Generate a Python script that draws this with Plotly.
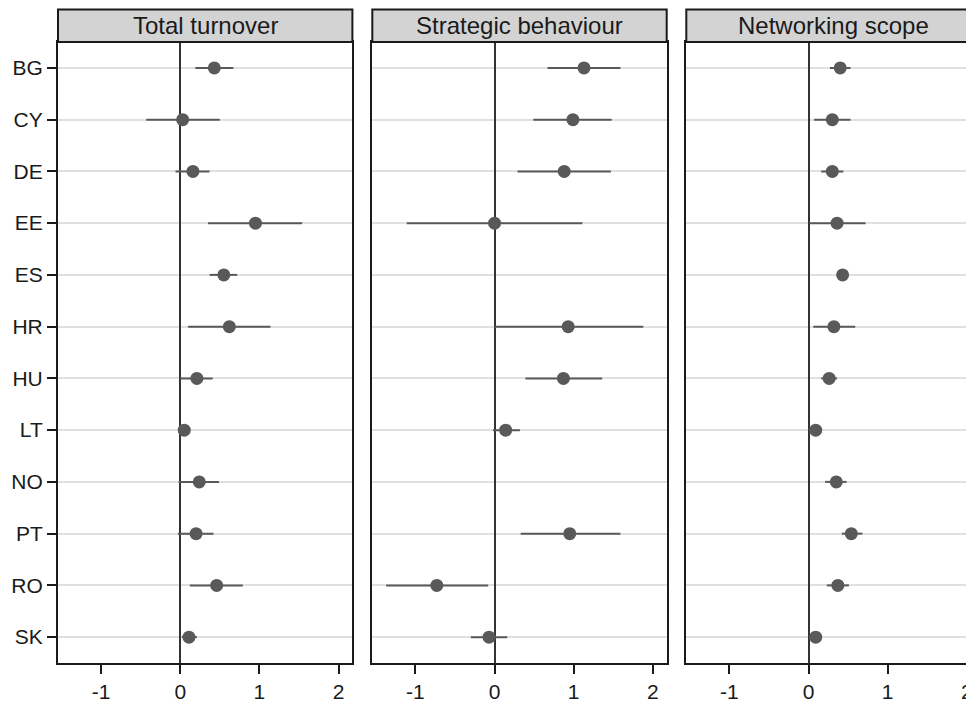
import plotly.graph_objects as go

countries = ["BG", "CY", "DE", "EE", "ES", "HR", "HU", "LT", "NO", "PT", "RO", "SK"]
panel_titles = ["Total turnover", "Strategic behaviour", "Networking scope"]

# Estimates with lower / upper confidence bounds per panel (None = not estimated)
turnover_est = [0.43, 0.03, 0.16, 0.95, 0.55, 0.62, 0.21, 0.05, 0.24, 0.20, 0.46, 0.11]
turnover_lo = [0.19, -0.43, -0.06, 0.35, 0.37, 0.10, 0.00, 0.00, -0.02, -0.03, 0.12, 0.02]
turnover_hi = [0.67, 0.50, 0.37, 1.54, 0.72, 1.14, 0.41, 0.10, 0.49, 0.42, 0.79, 0.21]

strategic_est = [1.13, 0.99, 0.88, 0.00, None, 0.93, 0.87, 0.14, None, 0.95, -0.73, -0.07]
strategic_lo = [0.67, 0.49, 0.29, -1.11, None, 0.00, 0.39, -0.02, None, 0.33, -1.37, -0.30]
strategic_hi = [1.59, 1.48, 1.47, 1.11, None, 1.88, 1.36, 0.32, None, 1.59, -0.08, 0.16]

network_est = [0.40, 0.30, 0.30, 0.36, 0.43, 0.32, 0.26, 0.09, 0.35, 0.54, 0.37, 0.09]
network_lo = [0.27, 0.07, 0.16, 0.01, 0.38, 0.06, 0.16, 0.04, 0.21, 0.42, 0.23, 0.04]
network_hi = [0.53, 0.53, 0.44, 0.72, 0.48, 0.59, 0.36, 0.14, 0.48, 0.68, 0.51, 0.14]

x_ticks = [-1, 0, 1, 2]

panels = [
    (turnover_est, turnover_lo, turnover_hi),
    (strategic_est, strategic_lo, strategic_hi),
    (network_est, network_lo, network_hi),
]

# the page body has an 8px margin, so the figure starts at (8, 8) of the window
OFF = 8
VW, VH = 974, 704
W, H = VW - OFF, VH - OFF
FONT = "Liberation Sans, Arial, sans-serif"
DARK = "#1a1a1a"
PT_COL = "#595959"

# pixel layout in window coordinates
px_left = [58, 372.3, 686.3]
px_width = 294.4
plot_top, plot_bot = 42, 663
strip_top = 9.5
unit_px = px_width / 3.72
xmin = -1.545


def fx(p):
    return (p - OFF) / W


def fy(p):
    return 1 - (p - OFF) / H


fig = go.Figure()

for i, (est, lo, hi) in enumerate(panels):
    xs, ys, ep, em = [], [], [], []
    for c, e, l, h in zip(countries, est, lo, hi):
        if e is None:
            continue
        xs.append(e)
        ys.append(c)
        ep.append(h - e)
        em.append(e - l)
    sfx = "" if i == 0 else str(i + 1)
    fig.add_trace(go.Scatter(
        x=xs, y=ys, mode="markers",
        marker=dict(size=13, color=PT_COL),
        error_x=dict(type="data", array=ep, arrayminus=em, symmetric=False,
                     width=0, thickness=2, color=PT_COL),
        xaxis="x" + sfx, yaxis="y" + sfx, showlegend=False, cliponaxis=False,
    ))

    right_px = min(px_left[i] + px_width, VW)
    x0 = fx(px_left[i])
    x1 = min(fx(right_px), 1.0)
    xmax = xmin + (right_px - px_left[i]) / unit_px
    xa = dict(
        domain=[x0, x1], range=[xmin, xmax], anchor="y" + sfx,
        tickvals=x_ticks, ticktext=[str(t) for t in x_ticks],
        ticks="outside", ticklen=9, tickwidth=1.5, tickcolor=DARK,
        tickfont=dict(family=FONT, size=21, color=DARK),
        showgrid=False, zeroline=True, zerolinecolor="#333333", zerolinewidth=2,
        showline=True, linecolor=DARK, linewidth=2, mirror=True,
        automargin=False, fixedrange=True,
    )
    ya = dict(
        domain=[fy(plot_bot), fy(plot_top)], anchor="x" + sfx,
        type="category", categoryarray=countries, categoryorder="array",
        range=[11.5, -0.5],
        showgrid=True, gridcolor="#e0e0e0", gridwidth=2,
        showline=True, linecolor=DARK, linewidth=2, mirror=(i < 2),
        zeroline=False, automargin=False, fixedrange=True,
    )
    if i == 0:
        ya.update(ticks="outside", ticklen=9, tickwidth=1.5, tickcolor=DARK,
                  tickfont=dict(family=FONT, size=21, color=DARK),
                  showticklabels=True)
    else:
        ya.update(ticks="", showticklabels=False)
    fig.update_layout(**{"xaxis" + sfx: xa, "yaxis" + sfx: ya})

    # strip
    sx1 = fx(px_left[i] + px_width)
    fig.add_shape(type="rect", xref="paper", yref="paper",
                  x0=x0, x1=sx1, y0=fy(plot_top), y1=fy(strip_top),
                  fillcolor="#d3d3d3", line=dict(color=DARK, width=2), layer="above")
    fig.add_annotation(xref="paper", yref="paper",
                       x=(x0 + sx1) / 2, y=fy((plot_top + strip_top) / 2),
                       text=panel_titles[i], showarrow=False,
                       xanchor="center", yanchor="middle",
                       font=dict(family=FONT, size=24, color=DARK))

fig.update_layout(
    width=W, height=H,
    margin=dict(l=0, r=0, t=0, b=0),
    paper_bgcolor="white", plot_bgcolor="white",
    font=dict(family=FONT),
)

fig.write_html("out.html")
